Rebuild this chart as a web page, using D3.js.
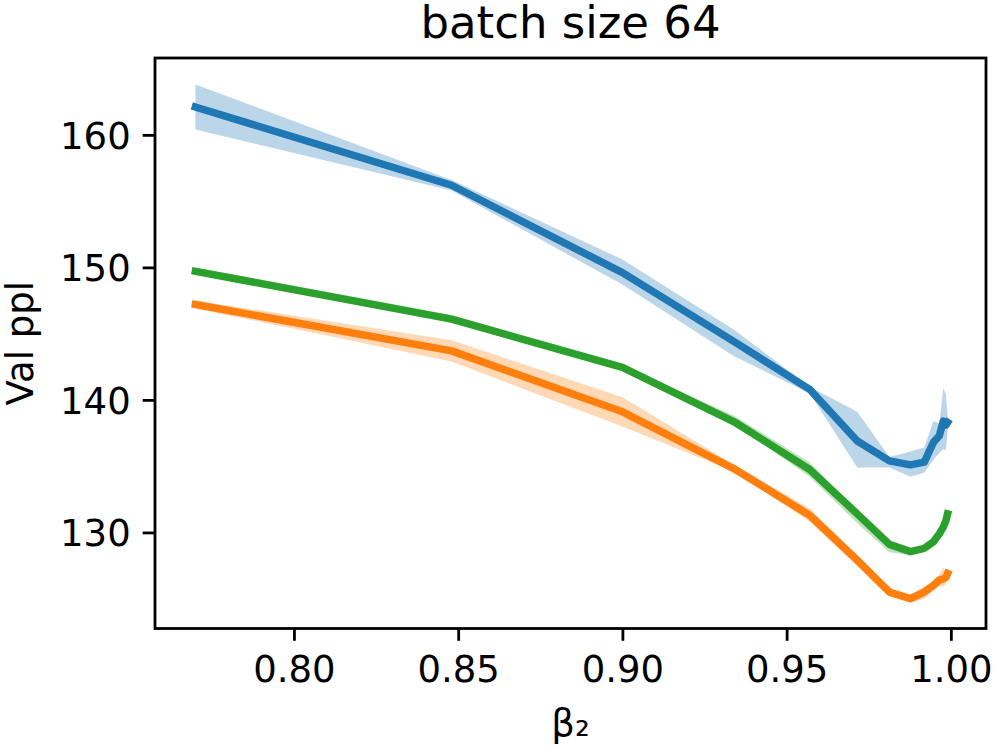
<!DOCTYPE html>
<html>
<head>
<meta charset="utf-8">
<script src="https://cdn.jsdelivr.net/npm/d3@7"></script>
<style>
  body { margin: 0; background: #fff; }
  svg { display: block; font-family: "DejaVu Sans", sans-serif; }
</style>
</head>
<body>
<svg id="chart" width="997" height="748"></svg>
<script>
// beta2 values (x axis)
var beta2 = [0.77, 0.848, 0.9, 0.934, 0.957, 0.9715, 0.9813, 0.9877, 0.9919, 0.9947, 0.9965, 0.9977, 0.9985, 0.999];

// val ppl, mean and band per series
var blueMean = [162.1, 156.2, 149.6, 144.4, 140.8, 136.9, 135.4, 135.1, 135.3, 136.8, 137.3, 138.4, 138.1, 138.3];
var blueLo   = [160.4, 155.8, 148.7, 143.3, 140.5, 134.9, 134.9, 134.2, 134.5, 135.5, 136.0, 136.3, 136.2, 137.6];
var blueHi   = [163.8, 156.6, 150.6, 145.3, 141.0, 139.1, 135.7, 136.1, 136.4, 138.4, 138.2, 140.9, 140.4, 138.9];

var orangeMean = [147.2, 143.7, 139.1, 134.8, 131.3, 127.9, 125.5, 125.0, 125.5, 126.0, 126.4, 126.5, 126.6, 126.9];
var orangeLo   = [146.9, 142.9, 138.0, 134.6, 130.8, 127.5, 125.2, 124.7, 125.0, 125.6, 126.0, 125.9, 126.1, 126.6];
var orangeHi   = [147.5, 144.5, 140.2, 135.1, 131.8, 128.3, 125.7, 125.3, 125.9, 126.4, 126.8, 127.4, 127.0, 127.2];

var greenMean = [149.7, 146.1, 142.45, 138.35, 134.75, 131.4, 129.1, 128.55, 128.8, 129.3, 129.9, 130.4, 130.9, 131.4];
var greenLo   = [149.6, 146.0, 142.3, 138.2, 134.2, 130.7, 128.5, 128.3, 128.65, 129.2, 129.8, 130.3, 130.8, 131.3];
var greenHi   = [150.0, 146.4, 142.6, 138.8, 135.3, 131.6, 129.3, 128.7, 128.95, 129.45, 130.0, 130.5, 131.0, 131.5];

var xTicks = [0.80, 0.85, 0.90, 0.95, 1.00];
var yTicks = [130, 140, 150, 160];

var series = [
  {mean: blueMean, lo: blueLo, hi: blueHi, color: "#1f77b4"},
  {mean: orangeMean, lo: orangeLo, hi: orangeHi, color: "#ff7f0e"},
  {mean: greenMean, lo: greenLo, hi: greenHi, color: "#2ca02c"}
];

var svg = d3.select("#chart");
// plot box ("top" is taken by window.top, so use other names)
var mLeft = 155, mRight = 986, mTop = 58, mBottom = 628.5;

var x = d3.scaleLinear().domain([0.7577, 1.0107]).range([mLeft, mRight]);
var y = d3.scaleLinear().domain([122.75, 165.8]).range([mBottom, mTop]);

var plot = svg.append("g");

// bands first
series.forEach(function(s) {
  var area = d3.area()
      .x(function(d, i) { return x(beta2[i]); })
      .y0(function(d, i) { return y(s.lo[i]); })
      .y1(function(d, i) { return y(s.hi[i]); });
  plot.append("path")
      .attr("d", area(s.mean))
      .attr("fill", s.color)
      .attr("fill-opacity", 0.3)
      .attr("stroke", "none");
});

// then lines
series.forEach(function(s) {
  var line = d3.line()
      .x(function(d, i) { return x(beta2[i]); })
      .y(function(d) { return y(d); });
  plot.append("path")
      .attr("d", line(s.mean))
      .attr("fill", "none")
      .attr("stroke", s.color)
      .attr("stroke-width", 7.5)
      .attr("stroke-linejoin", "round")
      .attr("stroke-linecap", "square");
});

// axes
var xAxis = d3.axisBottom(x).tickValues(xTicks).tickFormat(d3.format(".2f"))
    .tickSizeInner(12.3).tickSizeOuter(0).tickPadding(12);
var yAxis = d3.axisLeft(y).tickValues(yTicks).tickFormat(d3.format("d"))
    .tickSizeInner(12.3).tickSizeOuter(0).tickPadding(12);

var gx = svg.append("g").attr("transform", "translate(0," + mBottom + ")").call(xAxis);
var gy = svg.append("g").attr("transform", "translate(" + mLeft + ",0)").call(yAxis);

[gx, gy].forEach(function(g) {
  g.select(".domain").remove();
  g.selectAll(".tick line").attr("stroke", "#000").attr("stroke-width", 2.8);
  g.selectAll(".tick text")
      .attr("fill", "#000")
      .style("font-family", "DejaVu Sans")
      .style("font-size", "37px");
});
gx.selectAll(".tick text").attr("dy", "0.78em");
gy.selectAll(".tick text").attr("dy", "0.36em");

// frame
svg.append("rect")
    .attr("x", mLeft).attr("y", mTop)
    .attr("width", mRight - mLeft).attr("height", mBottom - mTop)
    .attr("fill", "none").attr("stroke", "#000").attr("stroke-width", 2.8);

// title and labels
svg.append("text")
    .attr("x", (mLeft + mRight) / 2).attr("y", 38)
    .attr("text-anchor", "middle")
    .style("font-size", "45px")
    .text("batch size 64");

svg.append("text")
    .attr("x", (mLeft + mRight) / 2).attr("y", 736)
    .attr("text-anchor", "middle")
    .style("font-size", "37px")
    .text("β₂");

svg.append("text")
    .attr("transform", "translate(33," + (mTop + mBottom) / 2 + ") rotate(-90)")
    .attr("text-anchor", "middle")
    .style("font-size", "37px")
    .text("Val ppl");
</script>
</body>
</html>
